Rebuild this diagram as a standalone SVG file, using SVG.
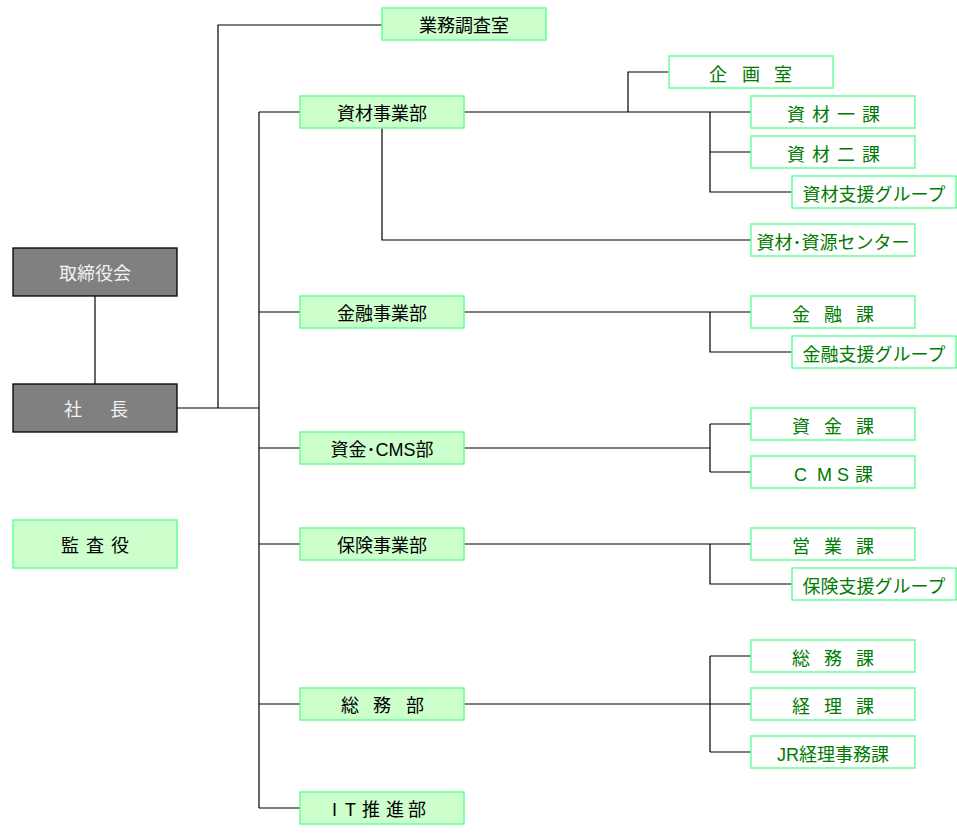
<svg xmlns="http://www.w3.org/2000/svg" width="957" height="833" viewBox="0 0 957 833">
<style>
text{font-family:"Liberation Sans","Noto Sans CJK JP",sans-serif;font-size:18px}
.exec rect{fill:#808080;stroke:#000;stroke-width:1.3}
.exec text{fill:#f2f2f2}
.dept rect{fill:#ccffcc;stroke:#66ff99;stroke-width:1.5}
.dept text{fill:#000}
.sect rect{fill:#fff;stroke:#66ff99;stroke-width:1.5}
.sect text{fill:#007a00}
.c{text-anchor:middle}
#connectors path{fill:none;stroke:#000;stroke-width:1.2}
</style>
<g id="connectors">
<path d="M95 296V384"/>
<path d="M177 408H259"/>
<path d="M218 408V25H382"/>
<path d="M259 112V808"/>
<path d="M259 112H300M259 312H300M259 448H300M259 544H300M259 704H300M259 808H300"/>
<path d="M464 112H751"/>
<path d="M628 112V72H669"/>
<path d="M710 112V192H792M710 152H751"/>
<path d="M382 128V240H751"/>
<path d="M464 312H751M710 312V352H792"/>
<path d="M464 448H710M710 424V472M710 424H751M710 472H751"/>
<path d="M464 544H751M710 544V584H792"/>
<path d="M464 704H710M710 656V752M710 656H751M710 704H751M710 752H751"/>
</g>
<g id="board" class="exec"><rect x="13" y="248" width="164" height="48"/><text class="c" x="95" y="280">取締役会</text></g>
<g id="president" class="exec"><rect x="13" y="384" width="164" height="48"/><text x="64 110" y="416">社長</text></g>
<g id="auditor" class="dept"><rect x="13" y="520" width="164" height="48"/><text x="61 86 111" y="552">監査役</text></g>
<g id="gyomu" class="dept"><rect x="382" y="8" width="164" height="32"/><text class="c" x="464" y="32">業務調査室</text></g>
<g id="shizai" class="dept"><rect x="300" y="96" width="164" height="32"/><text class="c" x="382" y="120">資材事業部</text></g>
<g id="kinyu" class="dept"><rect x="300" y="296" width="164" height="32"/><text class="c" x="382" y="320">金融事業部</text></g>
<g id="shikin" class="dept"><rect x="300" y="432" width="164" height="32"/><text class="c" x="382" y="456">資金･CMS部</text></g>
<g id="hoken" class="dept"><rect x="300" y="528" width="164" height="32"/><text class="c" x="382" y="552">保険事業部</text></g>
<g id="somu" class="dept"><rect x="300" y="688" width="164" height="32"/><text x="341 373 406" y="712">総務部</text></g>
<g id="it" class="dept"><rect x="300" y="792" width="164" height="32"/><text x="332 345 362 386 408" y="816">IT推進部</text></g>
<g id="kikaku" class="sect"><rect x="669" y="56" width="164" height="32"/><text x="709 742 774" y="81">企画室</text></g>
<g id="shizai1" class="sect"><rect x="751" y="96" width="164" height="32"/><text x="787 812 837 862" y="121">資材一課</text></g>
<g id="shizai2" class="sect"><rect x="751" y="136" width="164" height="32"/><text x="787 812 837 862" y="161">資材二課</text></g>
<g id="shizaishien" class="sect"><rect x="792" y="176" width="164" height="32"/><text class="c" x="874" y="201">資材支援グループ</text></g>
<g id="center" class="sect"><rect x="751" y="224" width="164" height="32"/><text class="c" x="833" y="249">資材･資源センター</text></g>
<g id="kinyuka" class="sect"><rect x="751" y="296" width="164" height="32"/><text x="792 824 856" y="321">金融課</text></g>
<g id="kinyushien" class="sect"><rect x="792" y="336" width="164" height="32"/><text class="c" x="874" y="361">金融支援グループ</text></g>
<g id="shikinka" class="sect"><rect x="751" y="408" width="164" height="32"/><text x="792 824 856" y="433">資金課</text></g>
<g id="cmska" class="sect"><rect x="751" y="456" width="164" height="32"/><text x="794 817 837 855" y="481">CMS課</text></g>
<g id="eigyo" class="sect"><rect x="751" y="528" width="164" height="32"/><text x="792 824 856" y="553">営業課</text></g>
<g id="hokenshien" class="sect"><rect x="792" y="568" width="164" height="32"/><text class="c" x="874" y="593">保険支援グループ</text></g>
<g id="somuka" class="sect"><rect x="751" y="640" width="164" height="32"/><text x="792 824 856" y="665">総務課</text></g>
<g id="keiri" class="sect"><rect x="751" y="688" width="164" height="32"/><text x="792 824 856" y="713">経理課</text></g>
<g id="jrkeiri" class="sect"><rect x="751" y="736" width="164" height="32"/><text class="c" x="833" y="761">JR経理事務課</text></g>
</svg>
